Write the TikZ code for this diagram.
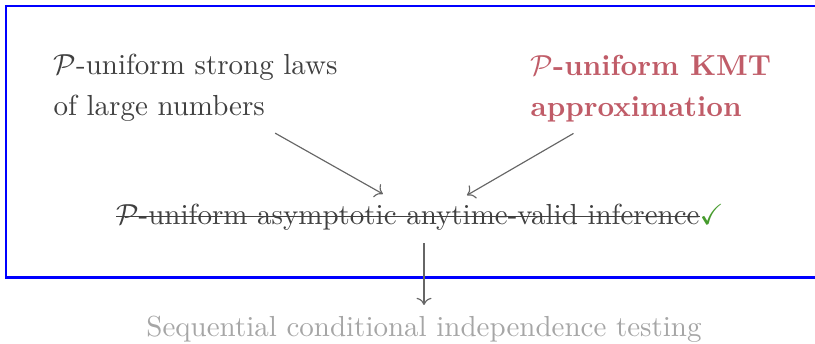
\documentclass[tikz,border=0pt]{standalone}
\usepackage{amsmath,amssymb}
\usepackage{tikz}
\usetikzlibrary{arrows.meta,calc}
\definecolor{kmtred}{RGB}{192,92,104}
\definecolor{okgreen}{RGB}{70,155,45}
\newsavebox{\strkbox}
\newcommand{\strk}[1]{\sbox{\strkbox}{#1}\rlap{\usebox{\strkbox}}\rule[0.56ex]{\wd\strkbox}{0.4pt}}
\tikzset{
  txt/.style={inner sep=0pt, text=black!75, align=left},
  garr/.style={->, black!60, line width=0.4pt}
}

\begin{document}
\begin{tikzpicture}[
    frame/.style={draw=blue, line width=0.9pt},
    hd/.style={txt, anchor=north west},
    ln/.style={txt, anchor=base}
  ]
    \useasboundingbox (0,0) rectangle (9.878,-4.169);
    \draw[frame] (0.073,-0.073) rectangle (10.2,-3.366);

    \node[hd] (laws) at (0.642,-0.654) {$\mathcal{P}$-uniform strong laws\\[2.1pt] of large numbers};
    \node[hd, text=kmtred, font=\bfseries] (kmt) at (6.424,-0.661) {$\mathcal{P}$-uniform KMT\\[2.1pt] approximation};
    \node[ln] (aavi) at (5.090,-2.715) {\strk{$\mathcal{P}$-uniform asymptotic anytime-valid inference}\textcolor{okgreen}{$\checkmark$}};
    \node[ln, text=black!35] (sci) at (5.139,-4.081) {Sequential conditional independence testing};

    \draw[garr, shorten <=7.5pt, shorten >=16pt] (laws) -- ($(aavi.center)+(0.04,0)$);
    \draw[garr, shorten <=7.5pt, shorten >=14.8pt] (kmt) -- ($(aavi.center)+(0.12,0)$);
    \draw[garr, shorten <=4.3pt, shorten >=3.7pt] (sci.north |- aavi.south) -- (sci);
  \end{tikzpicture}
\end{document}
